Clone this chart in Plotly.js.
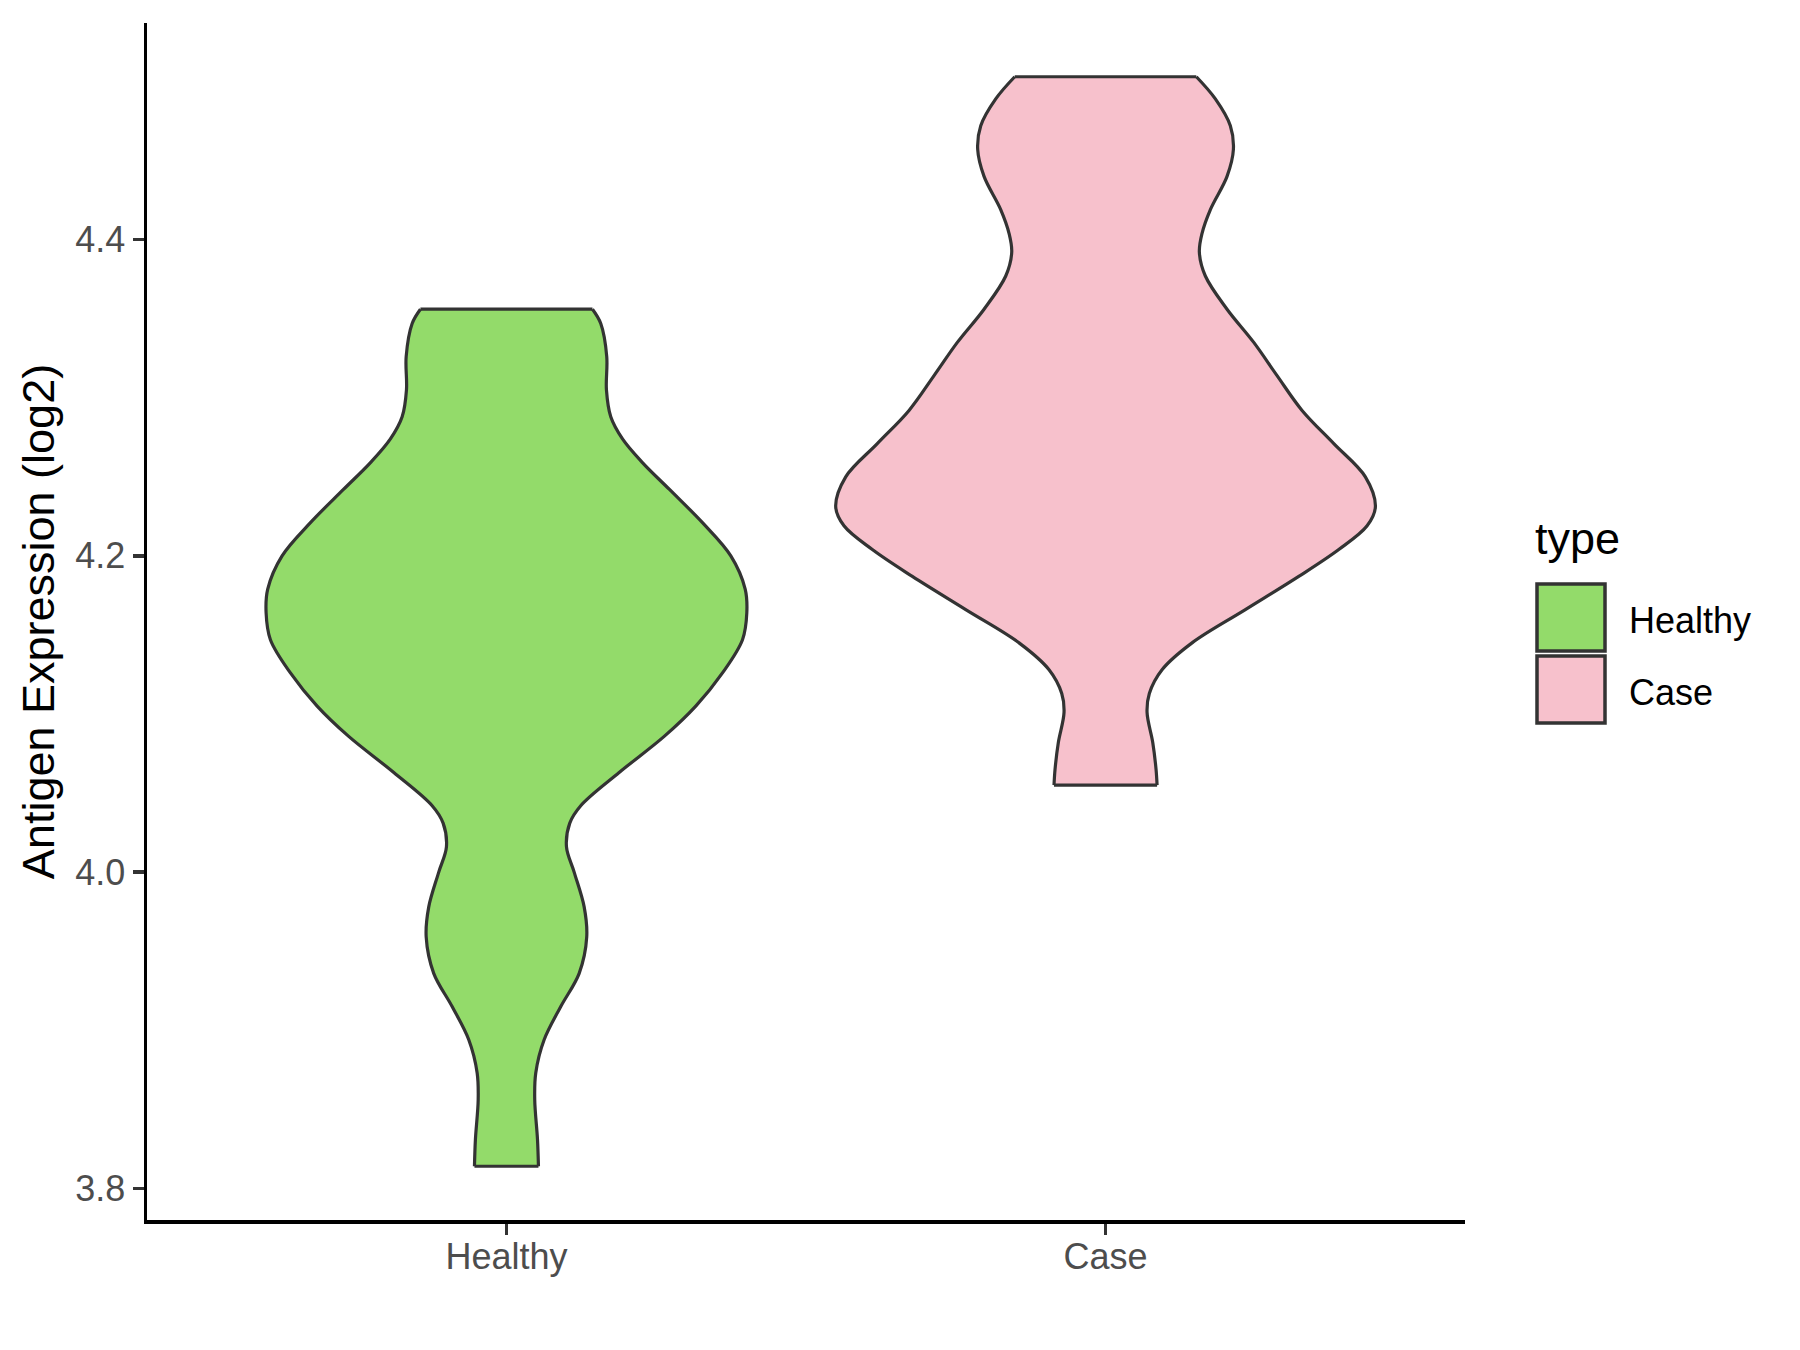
<!DOCTYPE html>
<html>
<head>
<meta charset="utf-8">
<script src="https://cdn.plot.ly/plotly-3.0.1.min.js"></script>
<style>html,body{margin:0;padding:0;background:#fff;}#chart{width:1800px;height:1350px;}</style>
</head>
<body>
<div id="chart"></div>
<script>
// Categories and colours
const categories = ["Healthy", "Case"];
const fillColors = ["#93DB6A", "#F7C1CC"];
const legendTitle = "type";
const yTickVals = [3.8, 4.0, 4.2, 4.4];
const yTickText = ["3.8", "4.0", "4.2", "4.4"];

// Violin outlines: expression value and half-width (density scaled)
const healthyY = [3.814, 3.831, 3.856, 3.873, 3.894, 3.915, 3.936, 3.959, 3.978, 4.000, 4.016, 4.031, 4.042, 4.063, 4.086, 4.105, 4.126, 4.147, 4.164, 4.179, 4.200, 4.221, 4.242, 4.259, 4.274, 4.288, 4.305, 4.326, 4.347, 4.356];
const healthyHalfWidth = [0.0534, 0.0518, 0.0472, 0.0489, 0.0629, 0.0907, 0.1214, 0.1340, 0.1297, 0.1130, 0.1002, 0.1057, 0.1240, 0.1881, 0.2638, 0.3160, 0.3606, 0.3940, 0.4012, 0.3985, 0.3745, 0.3272, 0.2721, 0.2270, 0.1937, 0.1741, 0.1669, 0.1674, 0.1574, 0.1436];

const caseY = [4.055, 4.065, 4.082, 4.101, 4.113, 4.128, 4.145, 4.166, 4.187, 4.204, 4.219, 4.231, 4.250, 4.271, 4.292, 4.314, 4.335, 4.356, 4.377, 4.392, 4.404, 4.419, 4.440, 4.457, 4.472, 4.489, 4.503];
const caseHalfWidth = [0.0860, 0.0843, 0.0788, 0.0693, 0.0731, 0.0943, 0.1444, 0.2334, 0.3225, 0.3893, 0.4366, 0.4504, 0.4337, 0.3810, 0.3280, 0.2863, 0.2474, 0.2028, 0.1666, 0.1566, 0.1611, 0.1750, 0.2028, 0.2134, 0.2083, 0.1833, 0.1516];

const groupY = [healthyY, caseY];
const groupHW = [healthyHalfWidth, caseHalfWidth];

const FONT = "Liberation Sans, Arial, Helvetica, sans-serif";
const outline = "#333333";
const LW = 3.2;

const traces = [];
const edgeX = [], edgeY = [];
categories.forEach((name, i) => {
  const pos = i + 1;
  const ys = groupY[i], hw = groupHW[i];
  const n = ys.length;
  // left side
  traces.push({
    type: "scatter", mode: "lines", name: name + " left",
    x: ys.map((v, k) => pos - hw[k]), y: ys.slice(),
    line: {color: outline, width: LW, shape: "spline", smoothing: 1},
    showlegend: false, hoverinfo: "skip"
  });
  // right side, filled to the left side
  traces.push({
    type: "scatter", mode: "lines", name: name,
    x: ys.map((v, k) => pos + hw[k]), y: ys.slice(),
    fill: "tonextx", fillcolor: fillColors[i],
    line: {color: outline, width: LW, shape: "spline", smoothing: 1},
    showlegend: false, hoverinfo: "skip"
  });
  // flat ends (trim of the density at the data range)
  edgeX.push(pos - hw[0], pos + hw[0], null, pos - hw[n - 1], pos + hw[n - 1], null);
  edgeY.push(ys[0], ys[0], null, ys[n - 1], ys[n - 1], null);
});
traces.push({
  type: "scatter", mode: "lines", x: edgeX, y: edgeY,
  line: {color: outline, width: LW}, showlegend: false, hoverinfo: "skip"
});

// Plot area in pixels
const L = 147, R = 335, T = 23, B = 130;
const W = 1800, H = 1350;
const pw = W - L - R, ph = H - T - B;
const px = v => (v - L) / pw;
const py = v => (H - B - v) / ph;

const shapes = [], annotations = [];
const keyTops = [584, 656];
categories.forEach((name, i) => {
  shapes.push({type: "rect", xref: "paper", yref: "paper",
    x0: px(1537), x1: px(1605), y0: py(keyTops[i]), y1: py(keyTops[i] + 67),
    fillcolor: fillColors[i], line: {color: outline, width: 3.5}});
  annotations.push({xref: "paper", yref: "paper", x: px(1627), y: py(keyTops[i] + 36),
    xanchor: "left", yanchor: "middle", showarrow: false, text: name,
    font: {family: FONT, size: 36, color: "#000000"}});
});
annotations.push({xref: "paper", yref: "paper", x: px(1533), y: py(538),
  xanchor: "left", yanchor: "middle", showarrow: false, text: legendTitle,
  font: {family: FONT, size: 45, color: "#000000"}});

const layout = {
  width: W, height: H,
  margin: {l: L, r: R, t: T, b: B, pad: 0},
  paper_bgcolor: "#ffffff", plot_bgcolor: "#ffffff",
  showlegend: false,
  font: {family: FONT},
  xaxis: {
    range: [0.4, 2.6], tickvals: [1, 2], ticktext: categories,
    showgrid: false, zeroline: false, showline: true, linecolor: "#000000", linewidth: 3.5,
    ticks: "outside", ticklen: 11, tickwidth: 3.5, tickcolor: "#333333",
    ticklabelstandoff: -9,
    tickfont: {family: FONT, size: 36, color: "#4D4D4D"}
  },
  yaxis: {
    range: [3.780, 4.537], tickvals: yTickVals, ticktext: yTickText,
    showgrid: false, zeroline: false, showline: true, linecolor: "#000000", linewidth: 3.5,
    ticks: "outside", ticklen: 11, tickwidth: 3.5, tickcolor: "#333333",
    tickfont: {family: FONT, size: 36, color: "#4D4D4D"},
    title: {text: "Antigen Expression (log2)", font: {family: FONT, size: 45, color: "#000000"}, standoff: 7}
  },
  shapes: shapes,
  annotations: annotations
};

Plotly.newPlot("chart", traces, layout, {staticPlot: true, displayModeBar: false});
</script>
</body>
</html>
